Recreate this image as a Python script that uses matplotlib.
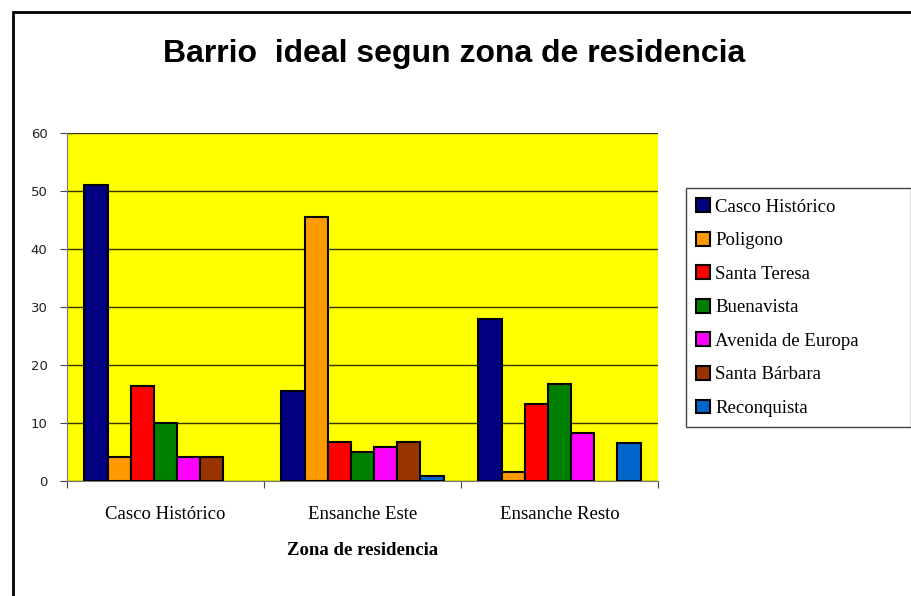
import matplotlib
matplotlib.use("Agg")
import matplotlib.pyplot as plt
import numpy as np
from matplotlib.patches import Rectangle

zonas = ["Casco Histórico", "Ensanche Este", "Ensanche Resto"]
barrios = ["Casco Histórico", "Poligono", "Santa Teresa", "Buenavista",
           "Avenida de Europa", "Santa Bárbara", "Reconquista"]
casco = [51.0, 15.5, 27.9]
poligono = [4.2, 45.6, 1.6]
santa_teresa = [16.3, 6.7, 13.3]
buenavista = [10.0, 5.0, 16.7]
avenida = [4.2, 5.8, 8.3]
santa_barbara = [4.2, 6.7, 0.0]
reconquista = [0.0, 0.8, 6.6]
series = [casco, poligono, santa_teresa, buenavista, avenida, santa_barbara, reconquista]
colores = ["#000080", "#FF9900", "#FF0000", "#008000", "#FF00FF", "#993300", "#0066CC"]

fig = plt.figure(figsize=(9.12, 5.96), dpi=100)
fig.patch.set_facecolor("white")

# marco exterior del grafico (se sale por la derecha y por abajo)
fig.add_artist(Rectangle((13 / 912, -0.05), 1.0, 1 - 12 / 596 + 0.05,
                         transform=fig.transFigure, fill=False,
                         edgecolor="black", linewidth=2))

ax = fig.add_axes([67 / 912, 1 - 481 / 596, 591 / 912, 348 / 596])
ax.set_facecolor("#FFFF00")

n = len(series)
ancho = 1.0 / (n + 1.5)
x = np.arange(len(zonas))
for i, (vals, c, nombre) in enumerate(zip(series, colores, barrios)):
    pos = x - 0.5 + 0.75 * ancho + (i + 0.5) * ancho
    lw = [1.5 if v > 0 else 0 for v in vals]
    ax.bar(pos, vals, width=ancho, color=c, edgecolor="black",
           linewidth=lw, label=nombre, zorder=3)

ax.set_xlim(-0.5, len(zonas) - 0.5)
ax.set_ylim(0, 60)
ax.set_yticks(range(0, 61, 10))
ax.yaxis.grid(True, color="#333300", linewidth=1, zorder=1)
ax.tick_params(axis="y", labelsize=9.5, length=5, direction="out",
               color="#444444", labelcolor="#222222", pad=9)

ax.set_xticks(np.arange(-0.5, len(zonas), 1.0))
ax.set_xticklabels([])
ax.set_xticks(x, minor=True)
ax.set_xticklabels(zonas, minor=True, fontsize=13.5, family="Liberation Serif")
ax.tick_params(axis="x", which="major", length=5, direction="out", color="#444444")
ax.tick_params(axis="x", which="minor", length=0, pad=18)

for s in ["top", "right"]:
    ax.spines[s].set_visible(False)
ax.spines["left"].set_color("#777777")
ax.spines["bottom"].set_color("#777777")

ax.set_xlabel("Zona de residencia", fontsize=13.5, fontweight="bold",
              family="Liberation Serif", labelpad=14)

fig.text(454 / 912, 1 - 54 / 596, "Barrio  ideal segun zona de residencia",
         ha="center", va="center", fontsize=23, fontweight="bold",
         family="Liberation Sans")

leg = ax.legend(loc="upper left",
                bbox_to_anchor=(686 / 912, 1 - 427 / 596, 225 / 912, 239 / 596),
                bbox_transform=fig.transFigure, borderaxespad=0, mode="expand",
                prop={"family": "Liberation Serif", "size": 13.5},
                handlelength=0.75, handleheight=0.75, handletextpad=0.25,
                labelspacing=0.86, fancybox=False, framealpha=1,
                borderpad=0.55)
leg.get_frame().set_edgecolor("#444444")
leg.get_frame().set_linewidth(1)
for h in leg.legend_handles:
    h.set_linewidth(1.5)

fig.savefig("out.png", dpi=100)
